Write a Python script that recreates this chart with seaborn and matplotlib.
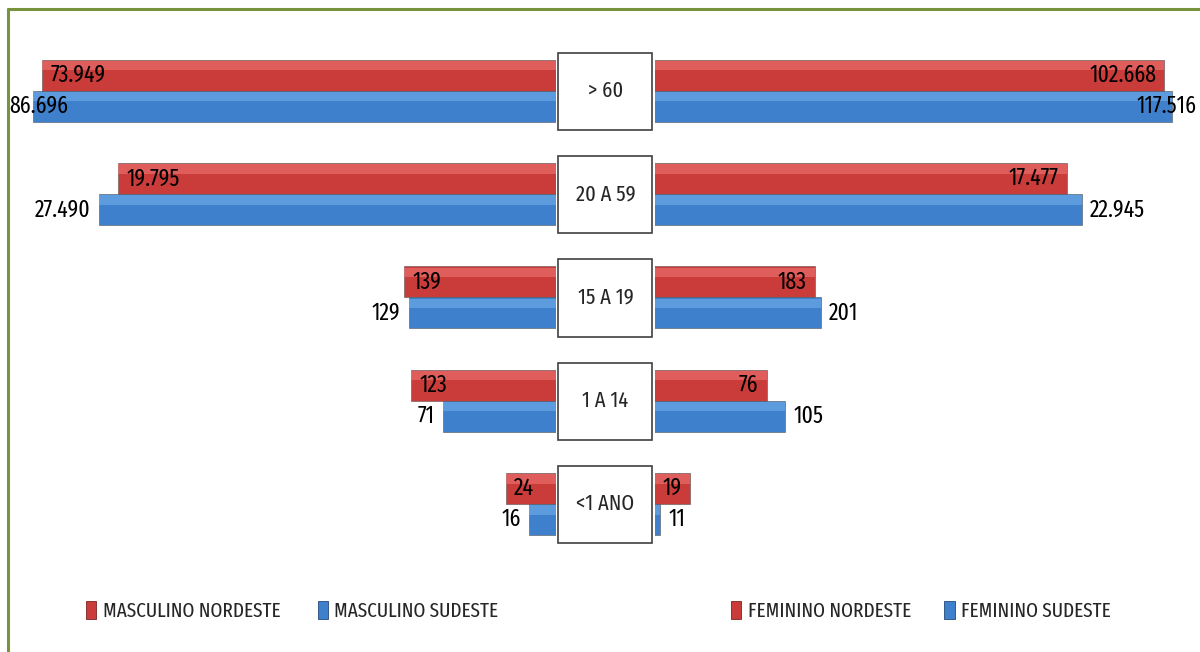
import matplotlib.pyplot as plt
import pandas as pd
import seaborn as sns
from matplotlib.lines import Line2D
from matplotlib.patches import Patch, Rectangle

# data
GRUPOS = ["> 60", "20 A 59", "15 A 19", "1 A 14", "<1 ANO"]
REGIOES = ["NORDESTE", "SUDESTE"]
MASC_NORDESTE = [73949, 19795, 139, 123, 24]
MASC_SUDESTE = [86696, 27490, 129, 71, 16]
FEM_NORDESTE = [102668, 17477, 183, 76, 19]
FEM_SUDESTE = [117516, 22945, 201, 105, 11]

RED = "#C93C3A"
BLUE = "#3F80CC"
RED_HI = "#EE7470"
BLUE_HI = "#72AEEC"
GREEN = "#77933C"
W, H = 1200, 652


def fmt(v):
    return f"{v:,}".replace(",", ".")


def long_df(nordeste, sudeste):
    return pd.DataFrame({
        "grupo": GRUPOS * 2,
        "regiao": ["NORDESTE"] * len(GRUPOS) + ["SUDESTE"] * len(GRUPOS),
        "valor": nordeste + sudeste,
    })


sns.set_style("white")
plt.rcParams["font.family"] = ["Fira Sans Extra Condensed", "Open Sans", "DejaVu Sans"]

fig = plt.figure(figsize=(W / 100, H / 100), dpi=100)

y0, hgt = 1 - 555.6 / H, 516.3 / H
ax_l = fig.add_axes([30 / W, y0, 526 / W, hgt])
ax_m = fig.add_axes([556 / W, y0, 99 / W, hgt])
ax_r = fig.add_axes([655 / W, y0, 525 / W, hgt])

xmax_l = 10 ** (1 + 526 / 132.8)
xmax_r = 10 ** (1 + 525 / 127.0)

for ax, df, side, xmax in [(ax_l, long_df(MASC_NORDESTE, MASC_SUDESTE), "left", xmax_l),
                           (ax_r, long_df(FEM_NORDESTE, FEM_SUDESTE), "right", xmax_r)]:
    sns.barplot(data=df, y="grupo", x="valor", hue="regiao", order=GRUPOS,
                hue_order=REGIOES, palette=[RED, BLUE], saturation=1, orient="h",
                width=0.6, edgecolor="#555555", linewidth=0.4, legend=False, ax=ax)
    ax.set_xscale("log")
    if side == "left":
        ax.set_xlim(xmax, 10)
    else:
        ax.set_xlim(10, xmax)
    ax.set_ylim(4.5, -0.5)
    ax.axis("off")

    sgn = -1 if side == "left" else 1  # outward direction on screen
    for k, cont in enumerate(ax.containers):
        hi = RED_HI if k == 0 else BLUE_HI
        for bar in cont:
            v = bar.get_width()
            yb, bh = bar.get_y(), bar.get_height()
            # glossy upper band for the 3d look
            ax.add_patch(Rectangle((10, yb + 0.04 * bh), v - 10, 0.3 * bh,
                                   facecolor=hi, edgecolor="none", alpha=0.6))
            yc = yb + bh / 2
            if k == 0:
                # nordeste: inside, at the outer end
                ha = "left" if side == "left" else "right"
                off = -sgn * 6
            elif v > 0.5 * xmax:
                # no room outside, excel pushes it over the bar end
                ha, off = "center", -sgn * 4
            else:
                ha = "right" if side == "left" else "left"
                off = sgn * 6
            ax.annotate(fmt(int(round(v))), (v, yc), xytext=(off, 0),
                        textcoords="offset points", ha=ha, va="center",
                        fontsize=17, color="black", clip_on=False)

# centre boxes with the age groups
ax_m.set_xlim(0, 1)
ax_m.set_ylim(4.5, -0.5)
ax_m.axis("off")
for i, g in enumerate(GRUPOS):
    ax_m.add_patch(Rectangle((0.02, i - 0.37), 0.95, 0.75, facecolor="white",
                             edgecolor="#404040", linewidth=1.2))
    ax_m.text(0.5, i, g, ha="center", va="center", fontsize=16)

# legends
leg_kw = dict(loc="center left", ncol=2, frameon=False, fontsize=15,
              handlelength=0.5, handleheight=0.95, handletextpad=0.3,
              borderaxespad=0, borderpad=0)
h_red = Patch(facecolor=RED, edgecolor="#7a2422", linewidth=0.6)
h_blue = Patch(facecolor=BLUE, edgecolor="#24487a", linewidth=0.6)
fig.legend([h_red, h_blue], ["MASCULINO NORDESTE", "MASCULINO SUDESTE"],
           bbox_to_anchor=(86 / W, 1 - 611 / H), columnspacing=1.8, **leg_kw)
fig.legend([h_red, h_blue], ["FEMININO NORDESTE", "FEMININO SUDESTE"],
           bbox_to_anchor=(731 / W, 1 - 611 / H), columnspacing=1.6, **leg_kw)

# green frame (left and top only)
fig.add_artist(Line2D([8 / W, 8 / W], [0, 1 - 9 / H], transform=fig.transFigure,
                      color=GREEN, linewidth=2.2))
fig.add_artist(Line2D([8 / W, 1], [1 - 9 / H, 1 - 9 / H], transform=fig.transFigure,
                      color=GREEN, linewidth=2.2))

fig.savefig("out.png", dpi=100)
